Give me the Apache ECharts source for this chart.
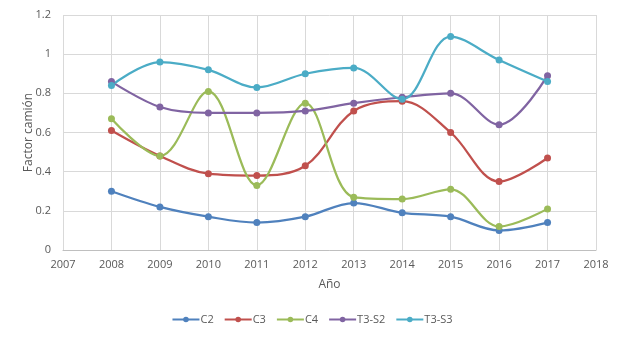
<!DOCTYPE html>
<html>
<head>
<meta charset="utf-8">
<script src="https://cdn.jsdelivr.net/npm/echarts@6/dist/echarts.min.js"></script>
<style>
  html, body { margin: 0; padding: 0; background: #fff; }
  #chart { width: 624px; height: 340px; }
</style>
</head>
<body>
<div id="chart"></div>
<script>
// datos
var years = [2008, 2009, 2010, 2011, 2012, 2013, 2014, 2015, 2016, 2017];
var c2   = [0.30, 0.22, 0.17, 0.14, 0.17, 0.24, 0.19, 0.17, 0.10, 0.14];
var c3   = [0.61, 0.48, 0.39, 0.38, 0.43, 0.71, 0.76, 0.60, 0.35, 0.47];
var c4   = [0.67, 0.48, 0.81, 0.33, 0.75, 0.27, 0.26, 0.31, 0.12, 0.21];
var t3s2 = [0.86, 0.73, 0.70, 0.70, 0.71, 0.75, 0.78, 0.80, 0.64, 0.89];
var t3s3 = [0.84, 0.96, 0.92, 0.83, 0.90, 0.93, 0.77, 1.09, 0.97, 0.86];

var names = ['C2', 'C3', 'C4', 'T3-S2', 'T3-S3'];
var colors = ['#4F81BD', '#C0504D', '#9BBB59', '#8064A2', '#4BACC6'];
var values = [c2, c3, c4, t3s2, t3s3];

function pairs(arr) {
    var out = [];
    for (var i = 0; i < years.length; i++) {
        out.push([years[i], arr[i]]);
    }
    return out;
}

var series = [];
for (var k = 0; k < names.length; k++) {
    series.push({
        name: names[k],
        type: 'line',
        smooth: 0.35,
        symbol: 'circle',
        symbolSize: 7,
        lineStyle: { width: 2.25, color: colors[k] },
        itemStyle: { color: colors[k] },
        data: pairs(values[k])
    });
}

var myChart = echarts.init(document.getElementById('chart'));

var option = {
    animation: false,
    color: colors,
    textStyle: { fontFamily: 'Open Sans, DejaVu Sans, sans-serif' },
    grid: {
        left: 63,
        right: 28,
        top: 15,
        bottom: 90
    },
    legend: {
        bottom: 10,
        left: 'center',
        itemWidth: 27,
        itemHeight: 7,
        itemGap: 10,
        textStyle: { color: '#595959', fontSize: 11, padding: [0, 0, 0, -4] },
        data: names
    },
    xAxis: {
        type: 'value',
        min: 2007,
        max: 2018,
        interval: 1,
        name: 'Año',
        nameLocation: 'middle',
        nameGap: 29,
        nameTextStyle: { color: '#595959', fontSize: 12 },
        axisLine: { show: true, lineStyle: { color: '#bfbfbf' } },
        axisTick: { show: false },
        axisLabel: {
            color: '#595959',
            fontSize: 11,
            margin: 9,
            formatter: function (v) { return String(v); }
        },
        splitLine: { show: true, lineStyle: { color: '#d9d9d9' } }
    },
    yAxis: {
        type: 'value',
        min: 0,
        max: 1.2,
        interval: 0.2,
        name: 'Factor camión',
        nameLocation: 'middle',
        nameGap: 28,
        nameMoveOverlap: false,
        nameTextStyle: { color: '#595959', fontSize: 12 },
        axisLine: { show: false },
        axisTick: { show: false },
        axisLabel: { color: '#595959', fontSize: 11, margin: 12 },
        splitLine: { show: true, lineStyle: { color: '#d9d9d9' } }
    },
    series: series
};

myChart.setOption(option);
</script>
</body>
</html>
